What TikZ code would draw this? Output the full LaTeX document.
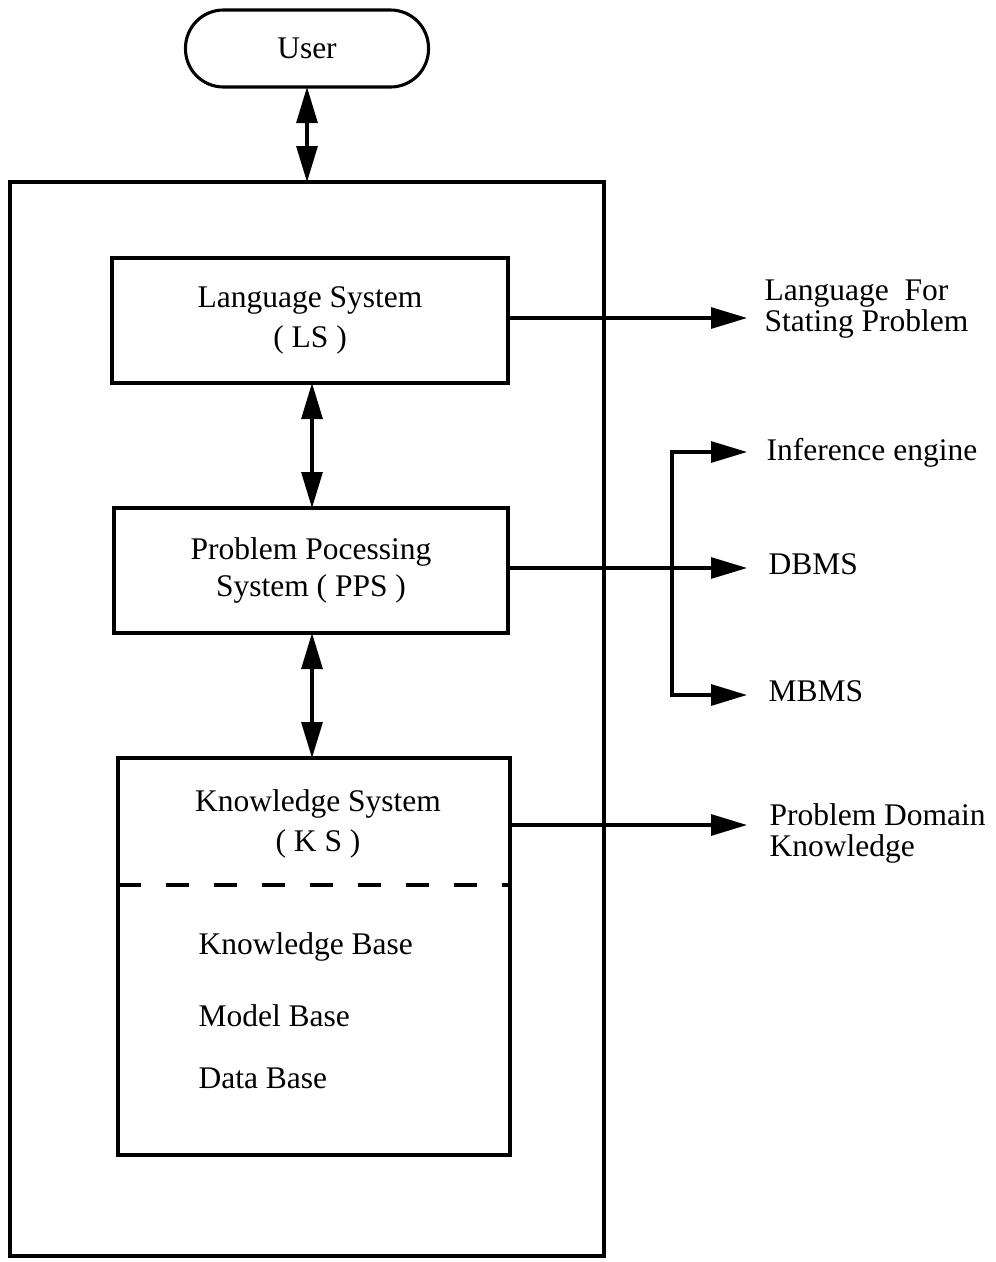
\documentclass[tikz,border=0pt]{standalone}
\usepackage{fontspec}
\setmainfont{Liberation Serif}
\usetikzlibrary{arrows.meta}
\begin{document}
\begin{tikzpicture}[x=1pt,y=-1pt,
  line width=3.1pt,
  txt/.style={font=\fontsize{31.5}{38}\selectfont, inner sep=0pt},
  box/.style={draw, rectangle, line width=3.1pt, inner sep=0pt, align=center,
              font=\fontsize{31.5}{41}\selectfont},
  tipstyle/.style={-{Triangle[length=36pt,width=21pt]}},
  both/.style={{Triangle[length=36pt,width=21pt]}-{Triangle[length=36pt,width=21pt]}},
  lbl/.style={txt, anchor=west, align=left, font=\fontsize{31.5}{31}\selectfont}
]
\useasboundingbox (0,0) rectangle (996,1262);
\fill[white] (0,0) rectangle (996,1262);

% user terminal
\node[draw, rounded corners=38pt, minimum width=243pt, minimum height=77pt,
      txt] (user) at (307,48.5) {User};

% enclosing system frame
\node[draw, minimum width=594pt, minimum height=1074pt, inner sep=0pt] (outer) at (307,719) {};

% subsystems
\node[box, minimum width=396pt, minimum height=125pt] (ls) at (310,320.5)
  {Language System\\[-1pt]( LS )};
\node[box, minimum width=394pt, minimum height=125pt, font=\fontsize{31.5}{37}\selectfont] (pps) at (311,570.5)
  {Problem Pocessing\\System ( PPS )};
\node[draw, minimum width=392pt, minimum height=397pt, inner sep=0pt] (ks) at (314,956.5) {};

% knowledge system contents
\node[txt] (kst) at (318,804) {Knowledge System};
\node[txt] (ksa) at (318,844) {( K S )};
\coordinate (dl) at (118,885);
\coordinate (dr) at (510,885);
\draw[dash pattern=on 23pt off 25pt] (dl) -- (dr);
\node[txt, anchor=west] (kb) at (197,947) {Knowledge Base};
\node[txt, anchor=west] (mbase) at (197,1016) {Model Base};
\node[txt, anchor=west] (dbase) at (197,1078) {Data Base};

% vertical two-way links
\coordinate (ut) at (307,87);
\coordinate (ub) at (307,182);
\draw[both] (ut) -- (ub);
\coordinate (l1) at (312,383);
\coordinate (l2) at (312,508);
\draw[both] (l1) -- (l2);
\coordinate (p1) at (312,633);
\coordinate (p2) at (312,758);
\draw[both] (p1) -- (p2);

% outputs
\coordinate (lsend) at (747,318);
\draw[tipstyle] (ls.east |- lsend) -- (lsend);
\node[lbl] (lfsp) at (763,309) {Language\,\,\,For\\Stating Problem};

\coordinate (dbend) at (747,568);
\coordinate (bj) at (672,568);
\coordinate (ieend) at (747,452);
\coordinate (mbend) at (747,695);
\draw[tipstyle] (pps.east |- dbend) -- (dbend);
\draw[tipstyle] (bj) |- (ieend);
\draw[tipstyle] (bj) |- (mbend);
\node[lbl] (ie) at (765,453) {Inference engine};
\node[lbl] (dbms) at (767,564) {DBMS};
\node[lbl] (mbms) at (767,691) {MBMS};

\coordinate (ksend) at (747,825);
\draw[tipstyle] (ks.east |- ksend) -- (ksend);
\node[lbl] (pdk) at (768,833) {Problem Domain\\Knowledge};
\end{tikzpicture}
\end{document}
